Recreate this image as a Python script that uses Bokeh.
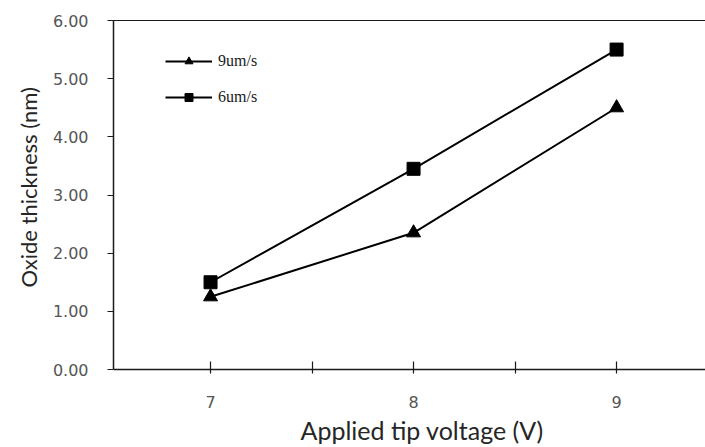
from bokeh.plotting import figure
from bokeh.models import (Range1d, FixedTicker, LinearAxis, Legend, LegendItem,
                          NumeralTickFormatter, Title)
from bokeh.embed import file_html
from bokeh.resources import INLINE

# ---- data ----
voltage = [7, 8, 9]
thick_9ums = [1.25, 2.35, 4.50]
thick_6ums = [1.50, 3.45, 5.50]
series_labels = ["9um/s", "6um/s"]
x_ticks = [7, 8, 9]
x_minor_ticks = [7.5, 8.5]
y_ticks = [0, 1, 2, 3, 4, 5, 6]
x_title = "Applied tip voltage (V)"
y_title = "Oxide thickness (nm)"

AXIS_COLOR = "#1a1a1a"
TICK_TEXT = "#555555"

p = figure(width=705, height=447, output_backend="svg", toolbar_location=None,
           x_range=Range1d(6.522, 9.438), y_range=Range1d(0, 6),
           min_border_left=113, min_border_right=0, min_border_top=20,
           min_border_bottom=78)
p.xgrid.visible = False
p.ygrid.visible = False
p.outline_line_color = None
p.background_fill_color = "white"
p.border_fill_color = "white"

# x axis
xa = p.xaxis[0]
xa.ticker = FixedTicker(ticks=x_ticks, minor_ticks=x_minor_ticks)
xa.axis_line_color = AXIS_COLOR
xa.axis_line_width = 1.5
xa.major_tick_line_color = AXIS_COLOR
xa.minor_tick_line_color = AXIS_COLOR
xa.major_tick_line_width = 1.2
xa.minor_tick_line_width = 1.2
xa.major_tick_in = 8
xa.major_tick_out = 4
xa.minor_tick_in = 8
xa.minor_tick_out = 4
xa.major_label_standoff = 22
xa.major_label_text_font = "DejaVu Sans"
xa.major_label_text_font_size = "16px"
xa.major_label_text_color = TICK_TEXT

# x title (placed below the axis, shifted right as in the reference)
xt = Title(text=x_title, align="left", offset=187, standoff=4,
           text_font="Lato", text_font_size="25px", text_font_style="normal",
           text_color="#262626")
p.add_layout(xt, "below")

# y axis
ya = p.yaxis[0]
ya.ticker = FixedTicker(ticks=y_ticks)
ya.formatter = NumeralTickFormatter(format="0.00")
ya.axis_line_color = AXIS_COLOR
ya.axis_line_width = 1.5
ya.major_tick_line_color = AXIS_COLOR
ya.major_tick_line_width = 1.2
ya.minor_tick_line_color = None
ya.major_tick_in = 0
ya.major_tick_out = 6
ya.major_label_standoff = 19
ya.major_label_text_font = "DejaVu Sans"
ya.major_label_text_font_size = "16px"
ya.major_label_text_color = TICK_TEXT

yt = Title(text=y_title, align="left", offset=82, standoff=16,
           text_font="Lato", text_font_size="22px", text_font_style="normal",
           text_color="#262626")
p.add_layout(yt, "left")

# top border line
top = LinearAxis(ticker=FixedTicker(ticks=[]), axis_line_color=AXIS_COLOR,
                 axis_line_width=1.2, major_tick_line_color=None,
                 minor_tick_line_color=None, major_label_text_font_size="0px")
p.add_layout(top, "above")

# series
l1 = p.line(voltage, thick_9ums, line_color="black", line_width=2)
s1 = p.scatter(voltage, thick_9ums, marker="triangle", size=14,
               fill_color="black", line_color="black")
l2 = p.line(voltage, thick_6ums, line_color="black", line_width=2)
s2 = p.scatter(voltage, thick_6ums, marker="square", size=13,
               fill_color="black", line_color="black")

legend = Legend(items=[LegendItem(label=series_labels[0], renderers=[l1, s1]),
                       LegendItem(label=series_labels[1], renderers=[l2, s2])],
                location=(52, 262), border_line_color=None,
                background_fill_alpha=0, padding=0, margin=0, spacing=16,
                glyph_width=47, glyph_height=20, label_standoff=6,
                label_text_font="Liberation Serif", label_text_font_size="16px",
                label_text_color="#1a1a1a")
p.add_layout(legend)

open("out.html", "w").write(file_html(p, INLINE))
